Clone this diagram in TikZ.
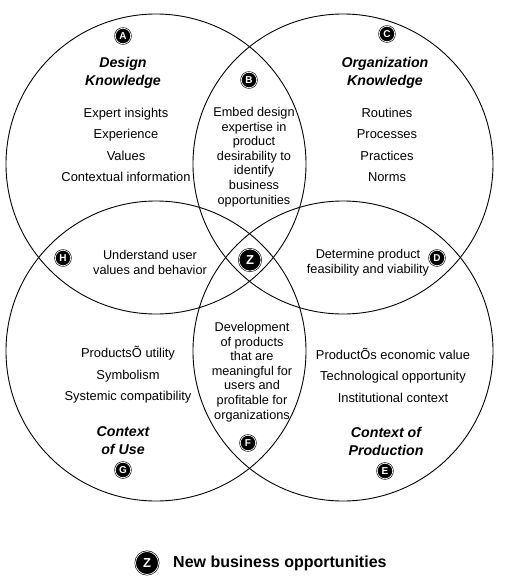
\documentclass[tikz,border=0pt]{standalone}
\usepackage{fontspec}
\setmainfont{Liberation Sans}
\begin{document}
\begin{tikzpicture}[x=1pt,y=-1pt,
  ring/.style={draw=black, line width=0.9pt},
  mk/.style={circle, fill=black, draw=black, double=white, double distance=0.7pt, line width=0.6pt,
    text=white, font=\fontsize{10}{10}\selectfont\bfseries, inner sep=0pt, minimum size=15.5pt},
  bigmk/.style={mk, minimum size=22pt, font=\fontsize{13}{13}\selectfont\bfseries},
  ttl/.style={align=center, inner sep=0pt, font=\fontsize{14.2}{18}\selectfont\bfseries\itshape},
  lst/.style={align=center, inner sep=0pt, font=\fontsize{12.9}{21.5}\selectfont},
  blk/.style={align=center, inner sep=0pt, font=\fontsize{12.7}{14.6}\selectfont}]
\useasboundingbox (0,0) rectangle (511,584);
% circles
\draw[ring] (156,164) circle[radius=150];
\draw[ring] (343,164) circle[radius=150];
\draw[ring] (156,351) circle[radius=150];
\draw[ring] (343,351) circle[radius=150];
% titles
\node[ttl] (tA) at (123,72.5) {Design\\Knowledge};
\node[ttl] (tC) at (385,72.5) {Organization\\Knowledge};
\node[ttl] (tG) at (123,441) {Context\\of Use};
\node[ttl] (tE) at (386,441) {Context of\\Production};
% lists
\node[lst] (lA) at (126,145) {Expert insights\\Experience\\Values\\Contextual information};
\node[lst] (lC) at (387,145) {Routines\\Processes\\Practices\\Norms};
\node[lst] (lG) at (128,375) {ProductsÕ utility\\Symbolism\\Systemic compatibility};
\node[lst] (lE) at (393,375) {ProductÕs economic value\\Technological opportunity\\Institutional context};
% overlaps
\node[blk] (oB) at (254,157) {Embed design\\expertise in\\product\\desirability to\\identify\\business\\opportunities};
\node[blk] (oF) at (252,372) {Development\\of products\\that are\\meaningful for\\users and\\profitable for\\organizations};
\node[blk] (oH) at (150,262.5) {Understand user\\values and behavior};
\node[blk] (oD) at (368,262.5) {Determine product\\feasibility and viability};
% markers
\node[mk] (mA) at (123,36) {A};
\node[mk] (mB) at (249,80) {B};
\node[mk] (mC) at (387,34) {C};
\node[mk] (mD) at (437,258) {D};
\node[mk] (mH) at (63,258) {H};
\node[mk] (mF) at (248,443) {F};
\node[mk] (mG) at (123,470) {G};
\node[mk] (mE) at (385,471) {E};
\node[bigmk] (mZ) at (250,260) {Z};
% legend
\node[bigmk, minimum size=23pt] (lz) at (147,563) {Z};
\node[anchor=west, inner sep=0pt, font=\fontsize{16}{16}\selectfont\bfseries] (lt) at (173,563) {New business opportunities};
\end{tikzpicture}
\end{document}
